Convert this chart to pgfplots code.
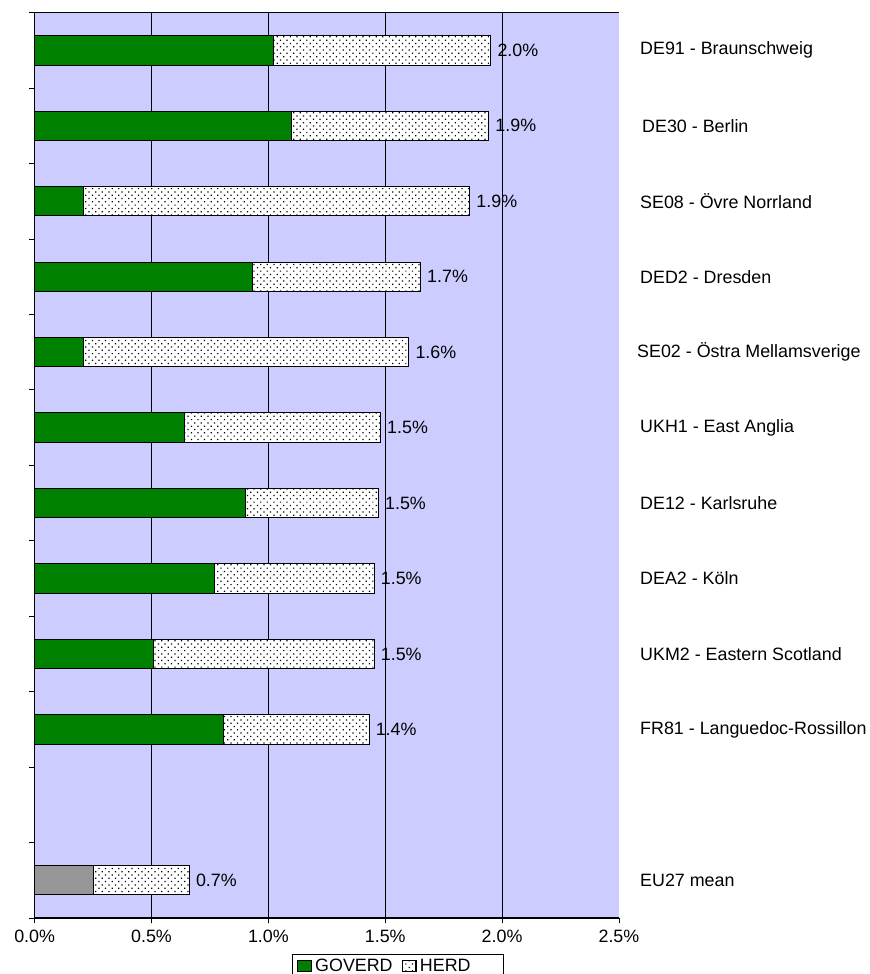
\documentclass[border=0pt]{standalone}
\usepackage{fontspec}
\setmainfont{Liberation Sans}
\usepackage{pgfplots}
\pgfplotsset{compat=1.18}
\usetikzlibrary{patterns.meta}
\definecolor{bgblue}{RGB}{204,204,255}
\definecolor{goverd}{RGB}{0,128,0}
\definecolor{eugrey}{RGB}{150,150,150}
\pgfplotsset{sqleg/.style={legend image code/.code={\draw[##1, line width=0.6pt] (0pt,-4.3pt) rectangle (10pt,4.3pt);}}}
\tikzset{rl/.style={anchor=west, inner sep=0pt, xshift=#1}, rl/.default=15.75pt,
  vl/.style={anchor=west, inner sep=0pt, xshift=4.8pt}}
\begin{document}
\begin{tikzpicture}[font=\fontsize{13.4}{15}\selectfont]
\useasboundingbox (-26pt,-42pt) rectangle (626.5pt,688.5pt);
\begin{axis}[
  at={(0pt,0pt)}, anchor=south west,
  xbar stacked,
  scale only axis, width=438.2pt, height=679pt,
  xmin=0, xmax=2.5, ymin=0.5, ymax=12.5,
  bar width=22pt,
  clip=false,
  axis background/.style={fill=bgblue},
  axis x line*=bottom, axis y line*=left,
  axis line style={black, line width=0.8pt},
  xtick={0,0.5,...,2.5},
  xticklabel={\pgfmathprintnumber[fixed,fixed zerofill,precision=1]{\tick}\%},
  /pgf/number format/assume math mode=true,
  xticklabel style={yshift=-1.5pt},
  ytick={0.5,1.5,...,12.5}, yticklabels={},
  tick align=outside, major tick length=4pt,
  tick style={black, line width=0.6pt},
  extra x ticks={0.5,1,1.5,2}, extra x tick labels={},
  extra x tick style={grid=major, major grid style={black, line width=0.7pt}},
  legend columns=2,
  legend style={at={(0.4404,-0.0398)}, anchor=north west, draw=black, line width=0.75pt,
    inner xsep=3.75pt, inner ysep=1pt, nodes={inner sep=2.2pt},
    /tikz/every odd column/.append style={column sep=0.5pt},
    /tikz/every even column/.append style={column sep=5pt}},
]
\addplot[fill=goverd, draw=black, line width=0.75pt, sqleg]
  coordinates {(1.021,12) (1.100,11) (0.210,10) (0.931,9) (0.210,8) (0.640,7) (0.901,6) (0.770,5) (0.509,4) (0.810,3) (0,1)};
\addlegendentry{GOVERD}
\addplot[fill=eugrey, draw=black, line width=0.75pt, forget plot]
  coordinates {(0,12) (0,11) (0,10) (0,9) (0,8) (0,7) (0,6) (0,5) (0,4) (0,3) (0.251,1)};
\addplot[draw=black, line width=0.75pt, preaction={fill=white},
  pattern={Dots[angle=45, distance=3.5pt, radius=0.65pt]}, pattern color=black, sqleg]
  coordinates {(0.931,12) (0.843,11) (1.652,10) (0.720,9) (1.391,8) (0.840,7) (0.570,6) (0.683,5) (0.944,4) (0.621,3) (0.411,1)};
\addlegendentry{HERD\hspace*{19pt}}
\draw[black, line width=0.8pt] (rel axis cs:0,1) -- (rel axis cs:1,1);
% total value labels at bar ends
\node[vl] at (axis cs:1.952,12) {2.0\%};
\node[vl] at (axis cs:1.943,11) {1.9\%};
\node[vl] at (axis cs:1.862,10) {1.9\%};
\node[vl] at (axis cs:1.651,9) {1.7\%};
\node[vl] at (axis cs:1.601,8) {1.6\%};
\node[vl] at (axis cs:1.480,7) {1.5\%};
\node[vl] at (axis cs:1.471,6) {1.5\%};
\node[vl] at (axis cs:1.453,5) {1.5\%};
\node[vl] at (axis cs:1.453,4) {1.5\%};
\node[vl] at (axis cs:1.431,3) {1.4\%};
\node[vl] at (axis cs:0.662,1) {0.7\%};
% region names
\node[rl] at (axis cs:2.5,12) {DE91 - Braunschweig};
\node[rl=17.25pt] at (axis cs:2.5,11) {DE30 - Berlin};
\node[rl] at (axis cs:2.5,10) {SE08 - Övre Norrland};
\node[rl] at (axis cs:2.5,9) {DED2 - Dresden};
\node[rl=13.5pt] at (axis cs:2.5,8) {SE02 - Östra Mellamsverige};
\node[rl] at (axis cs:2.5,7) {UKH1 - East Anglia};
\node[rl] at (axis cs:2.5,6) {DE12 - Karlsruhe};
\node[rl] at (axis cs:2.5,5) {DEA2 - Köln};
\node[rl] at (axis cs:2.5,4) {UKM2 - Eastern Scotland};
\node[rl] at (axis cs:2.5,3) {FR81 - Languedoc-Rossillon};
\node[rl] at (axis cs:2.5,1) {EU27 mean};
\end{axis}
\end{tikzpicture}
\end{document}
